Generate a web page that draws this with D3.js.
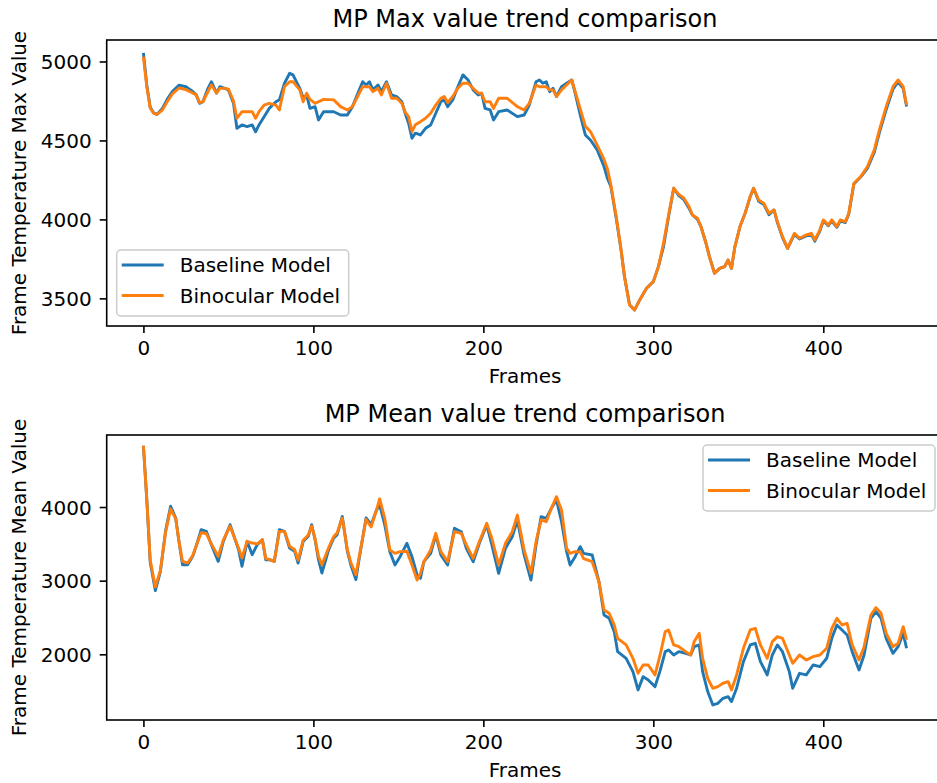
<!DOCTYPE html>
<html><head><meta charset="utf-8">
<script src="https://cdn.jsdelivr.net/npm/d3@7"></script>
<style>body{margin:0;background:#fff}svg{display:block}text{font-family:"DejaVu Sans",sans-serif;fill:#000}</style>
</head><body><svg id="c" width="937" height="783"></svg>
<script>
const seriesNames = ["Baseline Model", "Binocular Model"];
const xTicks = [0, 100, 200, 300, 400];
const maxYTicks = [3500, 4000, 4500, 5000];
const meanYTicks = [2000, 3000, 4000];

const maxFrames = [0,2,4,6,8,11,14,17,21,25, 29,31,33,35,38,40,43,45,48,50, 53,55,58,61,64,66,68,71,74,78,
 80,83,86,88,92,94,96,98,101,103, 106,112,116,120,123,127,129,131,133,135, 138,140,143,146,149,152,154,156,158,160,
 163,166,169,172,175,177,179,182,185,188, 191,194,197,199,201,204,206,209,214,220, 224,227,231,233,235,237,239,241,243,246,
 249,252,254,257,260,263,267,271,273,275, 278,281,283,286,289,292,296,300,303,306, 309,312,315,318,321,323,326,328,331,333,
 336,339,342,344,346,348,351,354,357,359, 362,365,368,371,373,376,379,383,386,390, 393,395,398,400,403,405,408,410,413,415,
 418,422,426,430,433,437,441,444,447,449];
const maxBaseline = [5055,4850,4710,4675,4665,4700,4760,4810,4850,4840, 4810,4790,4735,4745,4830,4872,4800,4840,4830,4820,
 4735,4577,4598,4588,4598,4555,4598,4650,4703,4745, 4757,4862,4925,4915,4830,4767,4788,4703,4714,4630,
 4682,4682,4661,4661,4714,4820,4872,4851,4872,4820, 4851,4809,4872,4788,4778,4745,4672,4609,4514,4546,
 4535,4577,4598,4672,4745,4757,4714,4757,4840,4915, 4883,4820,4788,4799,4703,4693,4630,4682,4693,4651,
 4661,4724,4872,4883,4862,4872,4809,4830,4778,4840, 4862,4883,4799,4661,4535,4503,4440,4335,4260,4208,
 4018,3807,3640,3460,3427,3490,3564,3606,3701,3828, 4020,4197,4150,4125,4070,4028,4000,3955,3849,3764,
 3659,3690,3701,3743,3690,3828,3955,4039,4144,4197, 4115,4095,4030,4060,3980,3885,3817,3905,3876,3895,
 3905,3862,3928,3990,3960,3990,3950,3990,3980,4035, 4225,4268,4325,4425,4550,4695,4825,4870,4830,4715];
const maxBinocular = [5030,4840,4705,4672,4665,4690,4745,4795,4832,4822, 4800,4790,4740,4745,4810,4851,4800,4830,4830,4825,
 4750,4640,4682,4682,4682,4640,4682,4724,4735,4724, 4693,4840,4872,4872,4820,4745,4799,4760,4735,4745,
 4760,4757,4714,4693,4714,4799,4840,4840,4840,4809, 4830,4788,4862,4767,4767,4735,4680,4651,4556,4600,
 4619,4640,4672,4724,4767,4778,4740,4778,4830,4862, 4862,4830,4800,4799,4745,4745,4703,4767,4767,4714,
 4693,4735,4851,4840,4840,4840,4820,4820,4778,4820, 4851,4883,4810,4700,4590,4556,4470,4380,4320,4220,
 4030,3810,3640,3460,3427,3490,3564,3606,3701,3850, 4030,4197,4158,4134,4081,4028,4007,3955,3849,3764,
 3659,3690,3701,3743,3690,3828,3955,4039,4144,4197, 4123,4102,4039,4060,3986,3891,3817,3912,3881,3902,
 3912,3870,3934,3997,3965,3997,3955,3997,3986,4039, 4229,4271,4335,4440,4567,4714,4840,4883,4840,4724];

const meanFrames = [0,2,4,7,10,13,16,19,21,23, 26,29,31,34,37,40,44,47,51,54, 56,58,61,64,67,70,72,74,77,80,
 83,86,89,91,94,97,99,101,103,105, 109,112,114,117,120,122,125,127,131,134, 137,139,142,145,148,151,155,158,161,163,
 165,169,172,175,179,183,187,190,194,198, 202,205,209,213,217,220,224,228,231,234, 237,240,243,246,249,251,254,257,259,264,
 268,271,274,277,279,284,288,291,294,297, 301,304,307,309,312,315,319,322,324,327, 329,332,335,338,341,344,346,349,353,357,
 360,363,367,370,373,376,380,382,386,390, 394,398,402,405,408,411,414,417,421,424, 428,431,434,437,441,444,447,449];
const meanBaseline = [4832,4100,3250,2865,3122,3670,4010,3851,3520,3217, 3217,3330,3466,3692,3670,3489,3262,3534,3760,3556,
 3421,3195,3534,3353,3489,3556,3285,3285,3262,3692, 3670,3444,3398,3240,3534,3602,3760,3556,3285,3104,
 3421,3579,3624,3873,3398,3217,3014,3308,3851,3760, 3950,4030,3756,3394,3213,3326,3507,3326,3077,3032,
 3258,3371,3620,3349,3213,3711,3665,3439,3258,3530, 3756,3485,3100,3439,3597,3824,3349,3009,3485,3869,
 3846,3982,4095,3801,3394,3213,3326,3462,3371,3349, 2987,2534,2489,2308,2036,1946,1765,1516,1697,1652,
 1561,1779,2036,2059,1991,2036,2014,1991,2104,2127, 1765,1494,1312,1335,1403,1425,1358,1539,1901,2127,
 2149,1901,1720,1991,2127,2036,1765,1539,1742,1720, 1855,1833,1946,2217,2399,2331,2263,2036,1788,1991,
 2489,2580,2489,2217,2014,2104,2285,2082];
const meanBinocular = [4832,4100,3280,2915,3140,3650,3975,3840,3520,3262, 3240,3340,3470,3650,3640,3500,3330,3550,3740,3560,
 3440,3308,3534,3511,3500,3556,3300,3290,3262,3670, 3670,3470,3420,3280,3550,3620,3740,3570,3330,3217,
 3450,3600,3650,3850,3420,3250,3081,3330,3830,3730, 3950,4110,3846,3416,3371,3394,3400,3213,3009,3100,
 3258,3416,3643,3394,3258,3665,3643,3485,3303,3552, 3778,3575,3213,3507,3665,3891,3416,3100,3530,3824,
 3801,3982,4141,3959,3439,3371,3394,3390,3300,3258, 2987,2602,2557,2399,2217,2127,1946,1742,1855,1855,
 1720,1991,2308,2331,2127,2104,2036,1991,2172,2285, 1946,1674,1539,1561,1607,1629,1516,1720,2082,2331,
 2353,2127,1946,2172,2240,2217,1991,1878,1991,1923, 1969,1991,2082,2353,2489,2399,2421,2127,1923,2104,
 2534,2634,2557,2285,2104,2149,2376,2195];

const colors = ["#1f77b4", "#ff7f0e"];
const svg = d3.select("#c");
svg.append("rect").attr("width",937).attr("height",783).attr("fill","#fff");

const L = 106.7, R = 943.3;
const x = d3.scaleLinear().domain([-21.6, 470.6]).range([L, R]);

function panel(cfg) {
  const g = svg.append("g");
  const y = d3.scaleLinear().domain(cfg.yDomain).range([cfg.bottom, cfg.top]);
  const clipId = "clip" + cfg.top;
  svg.append("clipPath").attr("id", clipId).append("rect")
    .attr("x", L).attr("y", cfg.top).attr("width", R - L).attr("height", cfg.bottom - cfg.top);
  const line = d3.line().x((d) => x(d[0])).y((d) => y(d[1])).curve(d3.curveLinear);
  cfg.series.forEach((vals, i) => {
    g.append("path").datum(cfg.frames.map((f, k) => [f, vals[k]]))
      .attr("d", line).attr("fill", "none").attr("stroke", colors[i])
      .attr("stroke-width", 2.9).attr("stroke-linejoin", "round")
      .attr("clip-path", `url(#${clipId})`);
  });
  // frame
  g.append("rect").attr("x", L).attr("y", cfg.top).attr("width", R - L).attr("height", cfg.bottom - cfg.top)
    .attr("fill", "none").attr("stroke", "#000").attr("stroke-width", 1.6);
  // x axis
  const xa = g.append("g").attr("transform", `translate(0,${cfg.bottom})`)
    .call(d3.axisBottom(x).tickValues(xTicks).tickSize(7).tickPadding(7).tickFormat(d3.format("d")));
  xa.select(".domain").remove();
  xa.selectAll("line").attr("stroke", "#000").attr("stroke-width", 1.6);
  xa.selectAll("text").attr("font-size", 20).attr("font-family", "DejaVu Sans").attr("fill", "#000").attr("dy", null).attr("y", 28.5);
  // y axis
  const ya = g.append("g").attr("transform", `translate(${L},0)`)
    .call(d3.axisLeft(y).tickValues(cfg.yTicks).tickSize(7).tickPadding(7).tickFormat(d3.format("d")));
  ya.select(".domain").remove();
  ya.selectAll("line").attr("stroke", "#000").attr("stroke-width", 1.6);
  ya.selectAll("text").attr("font-size", 20).attr("font-family", "DejaVu Sans").attr("fill", "#000").attr("x", -15).attr("dy", "0.35em");
  // labels
  g.append("text").attr("x", (L + R) / 2).attr("y", cfg.bottom + 57).attr("text-anchor", "middle").attr("font-size", 20).text("Frames");
  g.append("text").attr("transform", `translate(25.5,${(cfg.top + cfg.bottom) / 2}) rotate(-90)`)
    .attr("text-anchor", "middle").attr("font-size", 20).text(cfg.yLabel);
  g.append("text").attr("x", (L + R) / 2).attr("y", cfg.top - 13).attr("text-anchor", "middle").attr("font-size", 24).text(cfg.title);
  // legend
  const lg = g.append("g").attr("transform", `translate(${cfg.legend[0]},${cfg.legend[1]})`);
  lg.append("rect").attr("x", 0).attr("y", 0).attr("width", 232).attr("height", 66).attr("rx", 4)
    .attr("fill", "#fff").attr("fill-opacity", 0.8).attr("stroke", "#cccccc").attr("stroke-width", 1.5);
  seriesNames.forEach((name, i) => {
    const cy = 15 + i * 30.5;
    lg.append("line").attr("x1", 5).attr("x2", 47).attr("y1", cy).attr("y2", cy)
      .attr("stroke", colors[i]).attr("stroke-width", 2.9);
    lg.append("text").attr("x", 63).attr("y", cy + 7).attr("font-size", 20).text(name);
  });
}

panel({ top: 40, bottom: 326, yDomain: [3325, 5136], yTicks: maxYTicks,
  frames: maxFrames, series: [maxBaseline, maxBinocular],
  title: "MP Max value trend comparison", yLabel: "Frame Temperature Max Value", legend: [116.7, 250] });
panel({ top: 435, bottom: 720, yDomain: [1108, 4978], yTicks: meanYTicks,
  frames: meanFrames, series: [meanBaseline, meanBinocular],
  title: "MP Mean value trend comparison", yLabel: "Frame Temperature Mean Value", legend: [703, 445] });
</script></body></html>
